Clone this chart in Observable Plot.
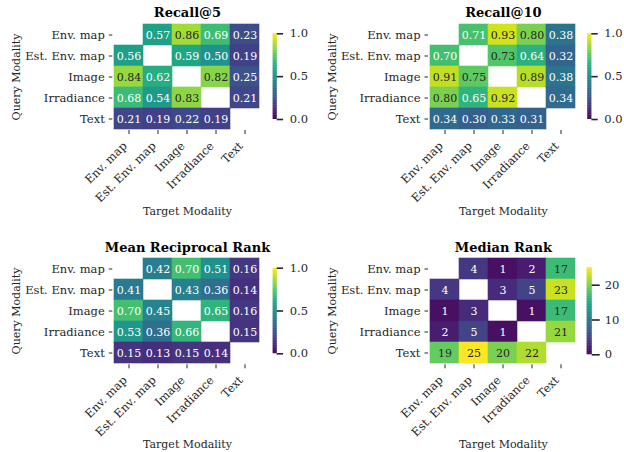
<!DOCTYPE html>
<html><head><meta charset="utf-8">
<script src="https://cdn.jsdelivr.net/npm/d3@7"></script>
<script src="https://cdn.jsdelivr.net/npm/@observablehq/plot@0.6"></script>
<style>
body{margin:0;background:#fff;}
#chart{position:relative;width:624px;height:452px;overflow:hidden;background:#fff;}
#chart svg{position:absolute;}
</style></head><body><div id="chart"></div>
<script>
const modalities = ["Env. map","Est. Env. map","Image","Irradiance","Text"];
const recall5 = [
 [null,0.57,0.86,0.69,0.23],
 [0.56,null,0.59,0.50,0.19],
 [0.84,0.62,null,0.82,0.25],
 [0.68,0.54,0.83,null,0.21],
 [0.21,0.19,0.22,0.19,null]];
const recall10 = [
 [null,0.71,0.93,0.80,0.38],
 [0.70,null,0.73,0.64,0.32],
 [0.91,0.75,null,0.89,0.38],
 [0.80,0.65,0.92,null,0.34],
 [0.34,0.30,0.33,0.31,null]];
const mrr = [
 [null,0.42,0.70,0.51,0.16],
 [0.41,null,0.43,0.36,0.14],
 [0.70,0.45,null,0.65,0.16],
 [0.53,0.36,0.66,null,0.15],
 [0.15,0.13,0.15,0.14,null]];
const medianRank = [
 [null,4,1,2,17],
 [4,null,3,5,23],
 [1,3,null,1,17],
 [2,5,1,null,21],
 [19,25,20,22,null]];
const titles = ["Recall@5","Recall@10","Mean Reciprocal Rank","Median Rank"];
const matrices = [recall5, recall10, mrr, medianRank];
const colorDomains = [[0,1],[0,1],[0,1],[0,25]];
const colorTicks = [[0,0.5,1],[0,0.5,1],[0,0.5,1],[0,10,20]];
const colorTickFormats = [".1f",".1f",".1f","d"];
const valueFormats = [".2f",".2f",".2f","d"];
const xLabel = "Target Modality";
const yLabel = "Query Modality";

// layout (pixels, local to each 312x226 panel)
const layout = [
 {ox:0,   oy:0,   left:112.3, right:261.7, top:23,   bottom:130,   titleY:16.5, yLabX:15.5, xLabY:214, cb:[272.7,276.7,33.3,119], darkAbove:0.72},
 {ox:312, oy:0,   left:116,   right:265.7, top:23,   bottom:130,   titleY:16.5, yLabX:20,   xLabY:214, cb:[275.3,279.3,33.3,119], darkAbove:0.72},
 {ox:0,   oy:226, left:112.3, right:261.7, top:30.7, bottom:138.3, titleY:25.2, yLabX:15.5, xLabY:221, cb:[272.7,276.7,41.7,127.3], darkAbove:0.72},
 {ox:312, oy:226, left:116,   right:265.7, top:30.7, bottom:138.3, titleY:25,   yLabX:20,   xLabY:221, cb:[274.7,279.7,41.3,128.3], darkAbove:0.6}
];
const W = 312, H = 226;
const FS = 11;      // annotations and axis labels
const TFS = 11.5;   // tick labels
const ink = "#262626";
const baseStyle = {fontFamily:"DejaVu Serif", fontSize: FS + "px", color: ink, background:"none", overflow:"visible"};

function heatmap(k) {
  const L = layout[k], dom = colorDomains[k];
  const data = [];
  matrices[k].forEach((row,i) => row.forEach((v,j) => {
    if (v != null) data.push({query: modalities[i], target: modalities[j], value: v});
  }));
  const fmt = d3.format(valueFormats[k]);
  const isDark = d => (d.value - dom[0]) / (dom[1] - dom[0]) > L.darkAbove;
  return Plot.plot({
    width: W, height: H,
    marginLeft: L.left, marginRight: W - L.right, marginTop: L.top, marginBottom: H - L.bottom,
    style: baseStyle,
    x: {domain: modalities, padding: 0, label: null, tickSize: 4, tickFormat: () => ""},
    y: {domain: modalities, padding: 0, label: null, tickSize: 3.5, tickFormat: () => ""},
    color: {type: "linear", scheme: "viridis", domain: dom},
    marks: [
      Plot.cell(data, {x:"target", y:"query", fill:"value", stroke:"value", strokeWidth:0.6}),
      Plot.text(data.filter(d => !isDark(d)), {x:"target", y:"query", text: d => fmt(d.value), fill:"white", fontSize: FS}),
      Plot.text(data.filter(isDark), {x:"target", y:"query", text: d => fmt(d.value), fill: ink, fontSize: FS}),
      Plot.text(modalities, {y: d => d, text: d => d, frameAnchor:"left", textAnchor:"end", dx:-8, fill: ink, fontSize: TFS}),
      Plot.text(modalities, {x: d => d, text: d => d, frameAnchor:"bottom", rotate:-45, textAnchor:"end", lineAnchor:"middle", dx:-4, dy:13.5, fill: ink, fontSize: TFS}),
      Plot.text([titles[k]], {text: d => d, frameAnchor:"top", lineAnchor:"bottom", dy: L.titleY - L.top, fontWeight:"bold", fontSize:13, fill:"black"}),
      Plot.text([yLabel], {text: d => d, frameAnchor:"left", textAnchor:"middle", rotate:-90, dx: L.yLabX - L.left, fill: ink, fontSize: FS}),
      Plot.text([xLabel], {text: d => d, frameAnchor:"bottom", lineAnchor:"bottom", dy: L.xLabY - L.bottom, fill: ink, fontSize: FS})
    ]
  });
}

function colorbar(k) {
  const L = layout[k], dom = colorDomains[k];
  const [x1, x2, y1, y2] = L.cb;
  const n = 120;
  const steps = d3.range(n).map(i => ({
    lo: dom[0] + (dom[1]-dom[0]) * i / n,
    hi: dom[0] + (dom[1]-dom[0]) * Math.min(n, i + 1.6) / n,
    mid: dom[0] + (dom[1]-dom[0]) * (i + 0.5) / n
  }));
  const tf = d3.format(colorTickFormats[k]);
  return Plot.plot({
    width: W, height: H,
    marginLeft: x1, marginRight: W - x2, marginTop: y1, marginBottom: H - y2,
    style: baseStyle,
    x: {domain: [0,1], axis: null},
    y: {domain: dom, axis: null},
    color: {type: "linear", scheme: "viridis", domain: dom},
    marks: [
      Plot.rect(steps, {x1: () => 0, x2: () => 1, y1: "lo", y2: "hi", fill: "mid"}),
      Plot.ruleY(colorTicks[k], {y: d => d, x1: 1, x2: 2.6, stroke: ink, strokeWidth: 1.6}),
      Plot.text(colorTicks[k], {y: d => d, text: d => tf(d), frameAnchor: "right", textAnchor: "start", dx: 12.5, fill: ink, fontSize: TFS})
    ]
  });
}

const root = document.getElementById("chart");
for (let k = 0; k < 4; ++k) {
  const L = layout[k];
  for (const svg of [heatmap(k), colorbar(k)]) {
    svg.style.left = L.ox + "px";
    svg.style.top = L.oy + "px";
    root.appendChild(svg);
  }
}
</script></body></html>
